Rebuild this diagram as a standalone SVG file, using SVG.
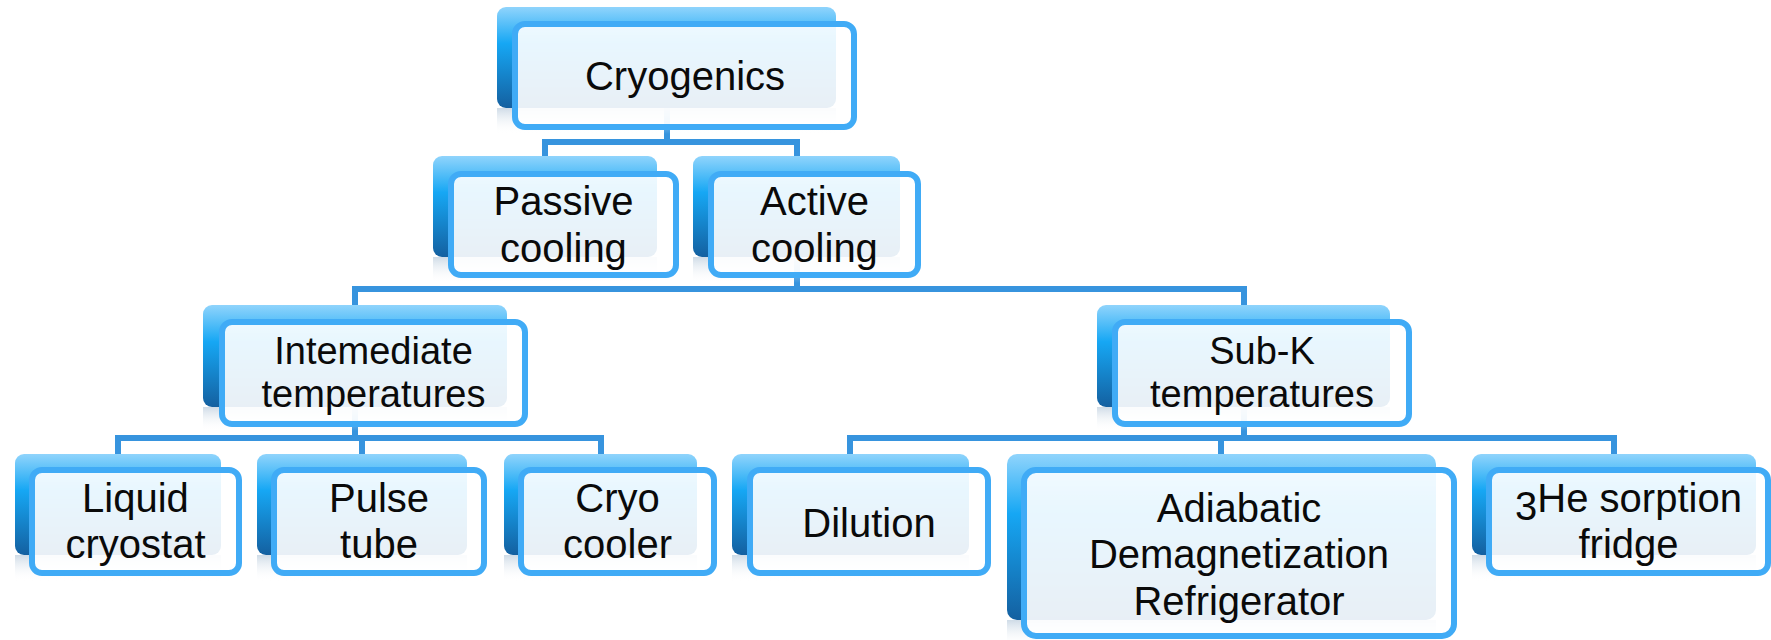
<svg xmlns="http://www.w3.org/2000/svg" width="1771" height="640" viewBox="0 0 1771 640">
<defs>
<linearGradient id="backGrad" x1="0" y1="0" x2="0" y2="1">
<stop offset="0" stop-color="#90d4fc"/>
<stop offset="0.36" stop-color="#16a7f4"/>
<stop offset="1" stop-color="#1460a0"/>
</linearGradient>
<linearGradient id="reflGrad" x1="0" y1="0" x2="0" y2="1">
<stop offset="0" stop-color="#c9d7e4" stop-opacity="0.9"/>
<stop offset="1" stop-color="#ffffff" stop-opacity="0"/>
</linearGradient>
</defs>
<style>
.back{fill:url(#backGrad);}
.refl{fill:url(#reflGrad);}
.front{fill:#ffffff;fill-opacity:0.9;stroke:#40abf6;stroke-width:6;}
.conn{fill:none;stroke:#3794de;stroke-width:6;stroke-linejoin:miter;stroke-linecap:square;}
.t1{font-family:"Liberation Sans",Arial,sans-serif;font-size:40px;fill:#0a0a0a;text-anchor:middle;}
.t2{font-family:"Liberation Sans",Arial,sans-serif;font-size:38px;fill:#0a0a0a;text-anchor:middle;}
</style>
<rect width="1771" height="640" fill="#ffffff"/>
<g id="connectors">
<path class="conn" d="M667,108 V142 M545,156 V142 H797 V156"/>
<path class="conn" d="M797,257 V289 M355,305 V289 H1244 V305"/>
<path class="conn" d="M355,407 V438 M118,454 V438 H601 V454 M362,438 V454"/>
<path class="conn" d="M1244,407 V438 M850,454 V438 H1614 V454 M1221,438 V454"/>
</g>
<g id="cryogenics">
<rect class="refl" x="497" y="108" width="339" height="26"/>
<rect class="back" x="497" y="7" width="339" height="101" rx="9"/>
<rect class="front" x="515" y="24" width="339" height="103" rx="10"/>
<text class="t1" x="685" y="90">Cryogenics</text>
</g>
<g id="passive">
<rect class="refl" x="433" y="257" width="224" height="26"/>
<rect class="back" x="433" y="156" width="224" height="101" rx="9"/>
<rect class="front" x="451" y="174" width="225" height="101" rx="10"/>
<text class="t1" x="563.5" y="215">Passive</text>
<text class="t1" x="563.5" y="262">cooling</text>
</g>
<g id="active">
<rect class="refl" x="693" y="257" width="207" height="26"/>
<rect class="back" x="693" y="156" width="207" height="101" rx="9"/>
<rect class="front" x="711" y="174" width="207" height="101" rx="10"/>
<text class="t1" x="814.5" y="215">Active</text>
<text class="t1" x="814.5" y="262">cooling</text>
</g>
<g id="intermediate">
<rect class="refl" x="203" y="407" width="304" height="24"/>
<rect class="back" x="203" y="305" width="304" height="102" rx="9"/>
<rect class="front" x="222" y="322" width="303" height="102" rx="10"/>
<text class="t2" x="373.5" y="364">Intemediate</text>
<text class="t2" x="373.5" y="407">temperatures</text>
</g>
<g id="subk">
<rect class="refl" x="1097" y="407" width="293" height="24"/>
<rect class="back" x="1097" y="305" width="293" height="102" rx="9"/>
<rect class="front" x="1115" y="322" width="294" height="102" rx="10"/>
<text class="t2" x="1262" y="364">Sub-K</text>
<text class="t2" x="1262" y="407">temperatures</text>
</g>
<g id="liquid">
<rect class="refl" x="15" y="555" width="206" height="26"/>
<rect class="back" x="15" y="454" width="206" height="101" rx="9"/>
<rect class="front" x="32" y="470" width="207" height="103" rx="10"/>
<text class="t1" x="135.5" y="512">Liquid</text>
<text class="t1" x="135.5" y="558">cryostat</text>
</g>
<g id="pulse">
<rect class="refl" x="257" y="555" width="210" height="26"/>
<rect class="back" x="257" y="454" width="210" height="101" rx="9"/>
<rect class="front" x="274" y="470" width="210" height="103" rx="10"/>
<text class="t1" x="379" y="512">Pulse</text>
<text class="t1" x="379" y="558">tube</text>
</g>
<g id="cryocooler">
<rect class="refl" x="504" y="555" width="193" height="26"/>
<rect class="back" x="504" y="454" width="193" height="101" rx="9"/>
<rect class="front" x="521" y="470" width="193" height="103" rx="10"/>
<text class="t1" x="617.5" y="512">Cryo</text>
<text class="t1" x="617.5" y="558">cooler</text>
</g>
<g id="dilution">
<rect class="refl" x="732" y="555" width="237" height="26"/>
<rect class="back" x="732" y="454" width="237" height="101" rx="9"/>
<rect class="front" x="750" y="470" width="238" height="103" rx="10"/>
<text class="t1" x="869" y="537">Dilution</text>
</g>
<g id="adr">
<rect class="refl" x="1007" y="620" width="429" height="26"/>
<rect class="back" x="1007" y="454" width="429" height="166" rx="10"/>
<rect class="front" x="1024" y="470" width="430" height="166" rx="12"/>
<text class="t1" x="1239" y="522">Adiabatic</text>
<text class="t1" x="1239" y="568">Demagnetization</text>
<text class="t1" x="1239" y="615">Refrigerator</text>
</g>
<g id="he3">
<rect class="refl" x="1472" y="555" width="284" height="26"/>
<rect class="back" x="1472" y="454" width="284" height="101" rx="9"/>
<rect class="front" x="1489" y="470" width="279" height="103" rx="10"/>
<text class="t1" x="1628.5" y="512"><tspan dy="8">3</tspan><tspan dy="-8">He sorption</tspan></text>
<text class="t1" x="1628.5" y="558">fridge</text>
</g>
</svg>
